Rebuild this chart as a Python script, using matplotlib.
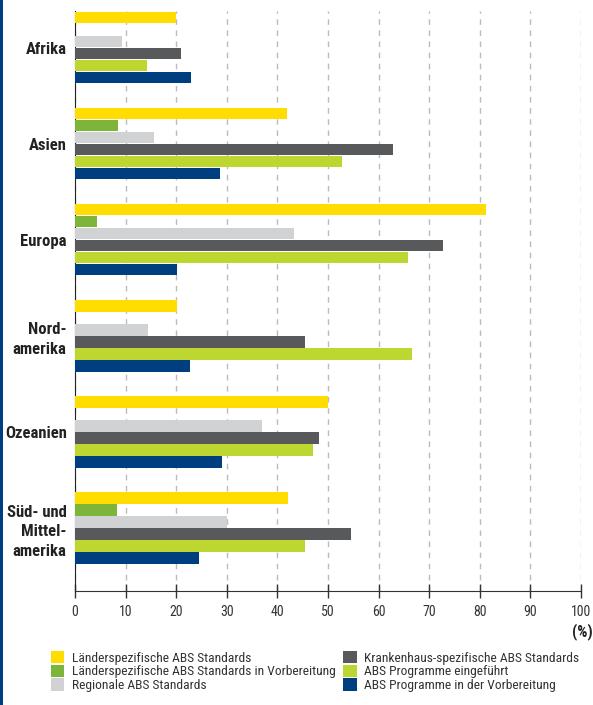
import matplotlib
matplotlib.use('Agg')
import matplotlib.pyplot as plt
from matplotlib.patches import Patch, Rectangle
import numpy as np

plt.rcParams['font.family'] = ['Roboto Condensed', 'DejaVu Sans']

# Data
regions = ['Afrika', 'Asien', 'Europa', 'Nord-\namerika', 'Ozeanien', 'Süd- und\nMittel-\namerika']
series = ['Länderspezifische ABS Standards',
          'Länderspezifische ABS Standards in Vorbereitung',
          'Regionale ABS Standards',
          'Krankenhaus-spezifische ABS Standards',
          'ABS Programme eingeführt',
          'ABS Programme in der Vorbereitung']
laender = [20.0, 41.9, 81.2, 20.2, 50.0, 42.1]
laender_vorb = [0, 8.5, 4.3, 0, 0, 8.3]
regional = [9.3, 15.6, 43.3, 14.4, 37.0, 30.0]
krankenhaus = [21.0, 62.8, 72.7, 45.5, 48.2, 54.5]
programme = [14.2, 52.8, 65.8, 66.6, 47.0, 45.5]
programme_vorb = [23.0, 28.7, 20.2, 22.7, 29.0, 24.5]
colors = ['#FFDD00', '#7DB43A', '#D1D2D4', '#58595B', '#BED730', '#003F7F']

values = [laender, laender_vorb, regional, krankenhaus, programme, programme_vorb]

fig = plt.figure(figsize=(5.93, 7.05), dpi=100)
ax = fig.add_axes([75/593, 1 - 591/705, 506/593, 580/705])

group = np.arange(len(regions)) * 8
for j, (vals, c) in enumerate(zip(values, colors)):
    ax.barh(group + j, vals, height=0.92, color=c, edgecolor='none', zorder=3)

ax.set_xlim(0, 100)
ax.set_ylim(47.75, -0.58)
ax.set_xticks(np.arange(0, 101, 10))
ax.set_yticks(group + 2.5)
ax.set_yticklabels(regions, fontsize=12, fontweight='bold', color='#222222',
                   linespacing=1.4)
ax.tick_params(axis='y', length=0, pad=6)
ax.tick_params(axis='x', direction='inout', length=10, width=1, color='#333333',
               labelsize=10, labelcolor='#333333', pad=5)
for s in ['top', 'right']:
    ax.spines[s].set_visible(False)
ax.spines['left'].set_color('#222222')
ax.spines['bottom'].set_color('#333333')
ax.grid(axis='x', color='#BBBBBB', linestyle=(0, (4, 4)), linewidth=1, zorder=0)

fig.text(593/593, 1 - 632/705, '(%)', ha='right', va='center',
         fontsize=11.5, fontweight='bold', color='#222222')

# left blue strip
fig.add_artist(Rectangle((0, 0), 3/593, 1, transform=fig.transFigure,
                         color='#003F7F', lw=0))

handles = [Patch(facecolor=c, edgecolor='none') for c in colors]
fig.legend(handles, series, ncol=2, loc='upper left',
           bbox_to_anchor=(44/593, 1 - 644/705), frameon=False,
           fontsize=9.7, handlelength=1.0, handleheight=1.05,
           handletextpad=0.55, labelspacing=0.0, columnspacing=0.6,
           borderpad=0, labelcolor='#333333')

fig.savefig('out.png', dpi=100)
